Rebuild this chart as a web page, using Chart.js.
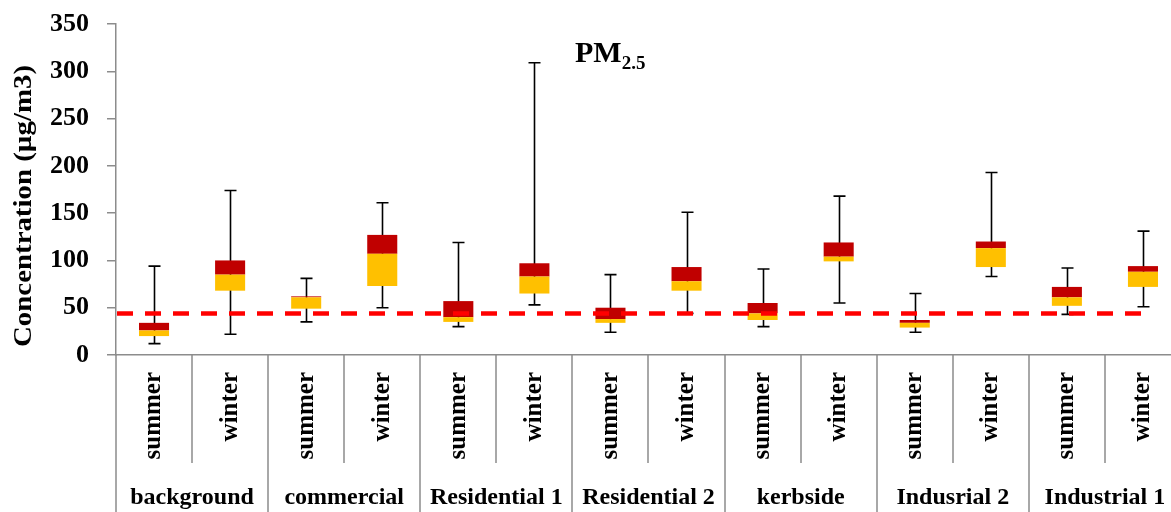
<!DOCTYPE html>
<html>
<head>
<meta charset="utf-8">
<script src="https://cdn.jsdelivr.net/npm/chart.js@4/dist/chart.umd.min.js"></script>
<style>
  html, body { margin: 0; padding: 0; background: #fff; overflow: hidden; }
  #wrap { width: 1190px; height: 512px; }
</style>
</head>
<body>
<div id="wrap"><canvas id="pm" width="1190" height="512"></canvas></div>
<script>
// Monitoring sites and seasons (each site has a summer and a winter box)
const sites = ['background', 'commercial', 'Residential 1', 'Residential 2', 'kerbside', 'Indusrial 2', 'Industrial 1'];
const seasons = ['summer', 'winter'];

// PM2.5 box statistics (µg/m3), ordered site by site: summer, winter
const whiskerLow  = [12, 22, 35, 50, 30, 53, 24, 44, 30, 55, 24, 83, 43, 51];
const quartile1   = [20, 68, 49, 73, 35, 65, 34, 68, 37, 99, 29, 93, 52, 72];
const medians     = [26, 85, 61, 107, 40, 83, 38, 78, 44, 104, 34, 113, 61, 88];
const quartile3   = [34, 100, 62, 127, 57, 97, 50, 93, 55, 119, 37, 120, 72, 94];
const whiskerHigh = [94, 174, 81, 161, 119, 309, 85, 151, 91, 168, 65, 193, 92, 131];

// Guideline concentration drawn as the dashed line
const guideline = 44;

// Y axis ticks
const yTicks = [0, 50, 100, 150, 200, 250, 300, 350];

const categoryLabels = sites.flatMap(s => seasons.map(se => se));
const lowerBoxes = quartile1.map((q, i) => [q, medians[i]]);
const upperBoxes = medians.map((m, i) => [m, quartile3[i]]);

const FONT = "'Liberation Serif', 'Times New Roman', serif";
const AXIS_GREY = '#8c8c8c';

const boxPlotExtras = {
  id: 'boxPlotExtras',
  beforeDatasetsDraw(chart) {
    const { ctx, scales: { x, y } } = chart;
    ctx.save();
    ctx.strokeStyle = '#000';
    ctx.lineWidth = 1.6;
    whiskerLow.forEach((lo, i) => {
      const cx = Math.round(x.getPixelForValue(i)) + 0.5;
      const yt = y.getPixelForValue(whiskerHigh[i]);
      const yb = y.getPixelForValue(lo);
      ctx.beginPath();
      ctx.moveTo(cx, yt); ctx.lineTo(cx, yb);
      ctx.moveTo(cx - 6, yt); ctx.lineTo(cx + 6, yt);
      ctx.moveTo(cx - 6, yb); ctx.lineTo(cx + 6, yb);
      ctx.stroke();
    });
    ctx.restore();
  },
  afterDatasetsDraw(chart) {
    const { ctx, chartArea, scales: { x, y } } = chart;
    const gy = y.getPixelForValue(guideline);
    ctx.save();
    ctx.strokeStyle = '#ff0000';
    ctx.lineWidth = 4.5;
    ctx.setLineDash([16, 12]);
    ctx.beginPath();
    ctx.moveTo(chartArea.left + 1, gy);
    ctx.lineTo(x.getPixelForValue(categoryLabels.length - 1), gy);
    ctx.stroke();
    ctx.restore();
  },
  afterDraw(chart) {
    const { ctx, chartArea, scales: { x } } = chart;
    const H = chart.height;
    ctx.save();
    // table lines under the category axis
    ctx.strokeStyle = AXIS_GREY;
    ctx.lineWidth = 1.5;
    ctx.beginPath();
    ctx.moveTo(chartArea.left, chartArea.bottom);
    ctx.lineTo(chartArea.left, H);
    for (let i = 0; i < categoryLabels.length - 1; i++) {
      const xb = Math.round((x.getPixelForValue(i) + x.getPixelForValue(i + 1)) / 2);
      const groupEnd = i % 2 === 1;
      ctx.moveTo(xb, chartArea.bottom);
      ctx.lineTo(xb, groupEnd ? H : 463);
    }
    ctx.stroke();

    // site names
    ctx.fillStyle = '#000';
    ctx.font = `bold 24px ${FONT}`;
    ctx.textAlign = 'center';
    ctx.textBaseline = 'middle';
    sites.forEach((s, g) => {
      const cx = (x.getPixelForValue(2 * g) + x.getPixelForValue(2 * g + 1)) / 2;
      ctx.fillText(s, cx, 498);
    });

    // axis title, widened slightly to the column's length
    ctx.save();
    ctx.translate(24, 206);
    ctx.rotate(-Math.PI / 2);
    ctx.font = `bold 26px ${FONT}`;
    const title = 'Concentration (µg/m3)';
    const tw = ctx.measureText(title).width;
    ctx.scale(282 / tw, 1);
    ctx.fillText(title, 0, 0);
    ctx.restore();

    // chart title with subscript
    ctx.textAlign = 'left';
    ctx.textBaseline = 'alphabetic';
    ctx.font = `bold 30px ${FONT}`;
    ctx.fillText('PM', 575, 62);
    const w = ctx.measureText('PM').width;
    ctx.font = `bold 19px ${FONT}`;
    ctx.fillText('2.5', 575 + w, 69);
    ctx.restore();
  }
};

new Chart(document.getElementById('pm'), {
  type: 'bar',
  data: {
    labels: categoryLabels,
    datasets: [
      { data: lowerBoxes, backgroundColor: '#ffc000', grouped: false, barPercentage: 0.395, categoryPercentage: 1, borderWidth: 0 },
      { data: upperBoxes, backgroundColor: '#c00000', grouped: false, barPercentage: 0.395, categoryPercentage: 1, borderWidth: 0 }
    ]
  },
  options: {
    responsive: false,
    animation: false,
    layout: { padding: { top: 24, right: 1, left: 0, bottom: 0 } },
    plugins: { legend: { display: false }, tooltip: { enabled: false }, title: { display: false } },
    scales: {
      x: {
        offset: true,
        grid: { display: false, drawTicks: false },
        border: { display: true, color: AXIS_GREY, width: 1.5 },
        ticks: {
          autoSkip: false, minRotation: 90, maxRotation: 90, padding: 17,
          color: '#000', font: { family: FONT, size: 25, weight: 'bold' }
        },
        afterFit(scale) { scale.height = 157; }
      },
      y: {
        min: 0, max: 350,
        afterBuildTicks(scale) { scale.ticks = yTicks.map(v => ({ value: v })); },
        grid: { drawOnChartArea: false, drawTicks: true, tickLength: 9, color: AXIS_GREY, lineWidth: 1.5 },
        border: { display: true, color: AXIS_GREY, width: 1.5 },
        ticks: { padding: 18, color: '#000', font: { family: FONT, size: 26, weight: 'bold' } },
        afterFit(scale) {
          scale.width = 116;
          scale.paddingTop = 0;
          scale.paddingBottom = 0;
        }
      }
    }
  },
  plugins: [boxPlotExtras]
});
</script>
</body>
</html>
